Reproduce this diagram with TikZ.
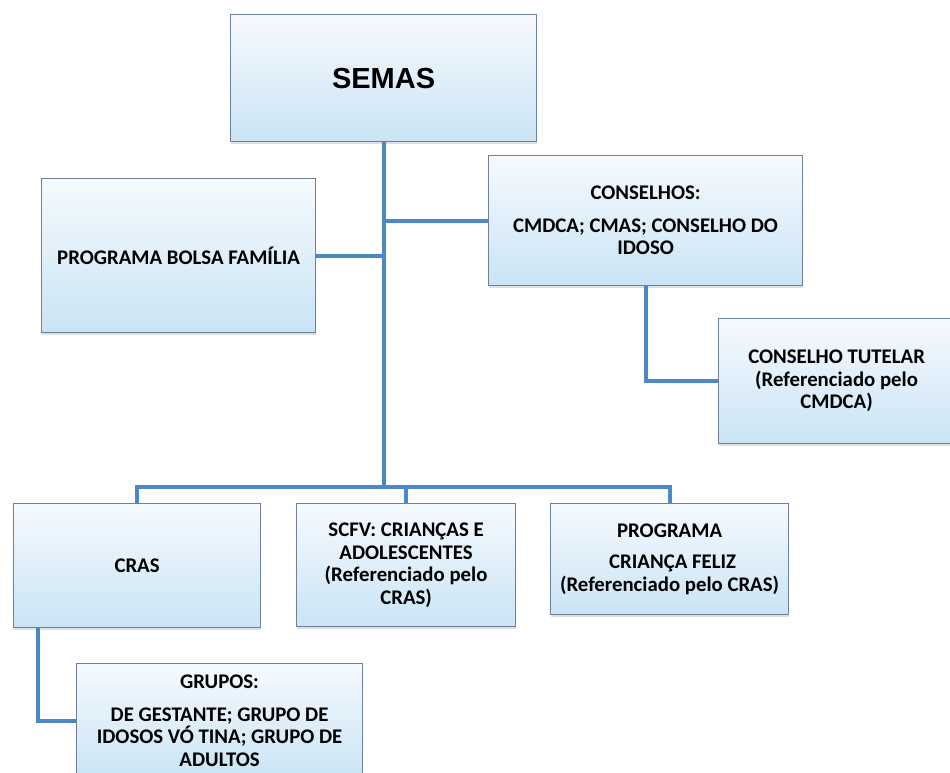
\documentclass[tikz,border=0pt]{standalone}
\usepackage{fontspec}
\setmainfont{Carlito}
\newfontfamily\arialfont{Liberation Sans}
\usetikzlibrary{shadows,calc}
\definecolor{linkblue}{HTML}{4D87C7}
\definecolor{boxtop}{HTML}{F6FAFE}
\definecolor{boxbot}{HTML}{C9E4F5}
\definecolor{boxedge}{HTML}{6F8199}
\tikzset{
  orgbox/.style={draw=boxedge, line width=1.2pt, top color=boxtop, bottom color=boxbot,
    anchor=north west, align=center, inner sep=0pt,
    font=\bfseries\fontsize{20.8}{22.5}\selectfont,
    drop shadow={opacity=0.25, shadow xshift=0.5pt, shadow yshift=-2pt}},
  link/.style={draw=linkblue, line width=4pt, line join=miter}
}
\begin{document}
\begin{tikzpicture}[x=1pt,y=-1pt]
\useasboundingbox (0,0) rectangle (950,773);
\begin{scope}
\clip (0,0) rectangle (950,773);
\node[orgbox, minimum width=306pt, minimum height=127pt] (semas) at (230,14)
  {\arialfont\bfseries\fontsize{29}{33}\selectfont SEMAS};
\node[orgbox, minimum width=274pt, minimum height=154pt] (bolsa) at (41,178)
  {PROGRAMA BOLSA FAMÍLIA};
\node[orgbox, minimum width=314pt, minimum height=130pt] (conselhos) at (488,155)
  {CONSELHOS:\\[10pt] CMDCA; CMAS; CONSELHO DO\\ IDOSO};
\node[orgbox, minimum width=236pt, minimum height=125pt] (tutelar) at (718,318)
  {CONSELHO TUTELAR\\ (Referenciado pelo\\ CMDCA)};
\node[orgbox, minimum width=247pt, minimum height=124pt] (cras) at (13,503)
  {CRAS};
\node[orgbox, minimum width=219pt, minimum height=123pt] (scfv) at (296,503)
  {SCFV: CRIANÇAS E\\ ADOLESCENTES\\ (Referenciado pelo\\ CRAS)};
\node[orgbox, minimum width=238pt, minimum height=111pt] (programa) at (550,503)
  {PROGRAMA\\[9pt] \hspace*{6pt}CRIANÇA FELIZ\\ (Referenciado pelo CRAS)};
\node[orgbox, minimum width=286pt, minimum height=114pt] (grupos) at (76,663)
  {GRUPOS:\\[10pt] DE GESTANTE; GRUPO DE\\ IDOSOS VÓ TINA; GRUPO DE\\ ADULTOS};
\end{scope}
\coordinate (bus) at (semas.south |- 0,487);
\coordinate (crasdrop) at ($(cras.south west)+(25,0)$);
\draw[link] (semas.south) -- (bus);
\draw[link] (bolsa.east) -- (bolsa.east -| semas.south);
\draw[link] (conselhos.west) -- (conselhos.west -| semas.south);
\draw[link] (conselhos.south) |- (tutelar.west);
\draw[link] (cras.north) -- (cras.north |- bus) -- (programa.north |- bus) -- (programa.north);
\draw[link] (scfv.north) -- (scfv.north |- bus);
\draw[link] (crasdrop) |- (grupos.west);
\end{tikzpicture}
\end{document}
